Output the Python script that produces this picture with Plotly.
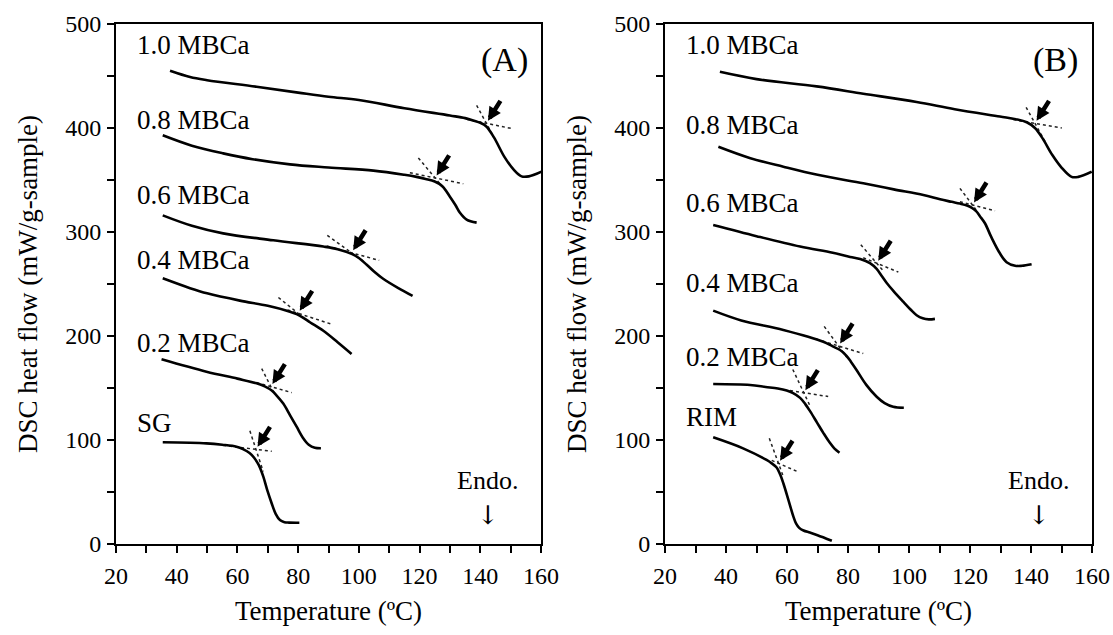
import plotly.graph_objects as go

FONT = "Liberation Serif"

# ---------------- Panel (A) data ----------------
A_names = ["1.0 MBCa", "0.8 MBCa", "0.6 MBCa", "0.4 MBCa", "0.2 MBCa", "SG"]
A_label_v = [480, 408, 336, 273, 193, 116]

A10_T = [37.8, 44.4, 50, 66.3, 80, 90, 100, 115, 130, 135, 138, 140, 142, 144.5, 148, 151, 153.6, 156, 160.2]
A10_v = [455, 449, 446, 439.7, 434, 430, 427, 419, 412, 409.5, 407, 405, 401.5, 391, 372, 360, 353.5, 353.5, 358]
A08_T = [35.4, 45, 55.3, 65, 77.3, 90, 104.8, 115, 119, 122, 125, 127.5, 130, 131.8, 133.3, 135.5, 138.8]
A08_v = [393, 383, 375.6, 370, 365, 362, 359, 355, 353, 351, 348.5, 344, 334, 326, 318.5, 312, 309]
A06_T = [35.4, 45, 55.3, 71.8, 88.3, 93, 97.6, 100, 102.6, 105, 108, 113, 117.7]
A06_v = [316, 306, 298.7, 292, 286, 283.5, 279, 275, 268.5, 262, 255, 246, 238.5]
A04_T = [35.4, 44.4, 50, 60.8, 70, 77.3, 79.5, 81.7, 84, 88.3, 93, 97.6]
A04_v = [255.5, 246, 241, 234, 229, 223.4, 221, 217.5, 213, 205, 194, 182.7]
A02_T = [35, 49.8, 60, 66.3, 69, 71.3, 73, 75.1, 77.3, 79.5, 81.5, 83.5, 85.5, 87.5]
A02_v = [177.6, 165.7, 159, 154.5, 151.5, 147.5, 142.5, 135, 124, 112.8, 102.5, 95.5, 92.5, 92]
ASG_T = [35.4, 49.8, 55, 59.7, 62, 64, 65.5, 67, 68.5, 69.8, 71.3, 72.6, 74, 75.5, 77, 80.4]
ASG_v = [97.8, 96.8, 95.5, 93.6, 91, 87.5, 83, 76, 65, 52, 39, 29, 23, 21, 20.6, 20.5]

A_onset_T = [142, 125.1, 97.6, 80, 71, 66.1]
A_onset_v = [404.5, 352, 280, 221.8, 151.3, 91]
A_base_slope = [-0.6, -0.6, -0.8, -0.95, -0.83, -0.36]
A_base_T0 = [135.5, 116.8, 89.4, 76.5, 66.3, 55.3]
A_base_T1 = [150.3, 134.4, 106.7, 91.4, 77.9, 71.3]
A_steep_slope = [-5.4, -3.5, -2.1, -2.34, -5.8, -8.9]
A_steep_T0 = [138.8, 119.6, 89.6, 73.5, 68.0, 64.1]
A_steep_T1 = [144.3, 127.8, 101.4, 81.7, 72.4, 68.5]

# ---------------- Panel (B) data ----------------
B_names = ["1.0 MBCa", "0.8 MBCa", "0.6 MBCa", "0.4 MBCa", "0.2 MBCa", "RIM"]
B_label_v = [480, 403, 328, 251, 180, 122]

B10_T = [38, 50, 69.7, 85, 102.5, 115, 129.8, 135, 138.6, 141.3, 143.8, 147, 150, 153.3, 155.5, 159.9]
B10_v = [454, 447, 440, 433, 425, 418, 411, 408.5, 405.5, 400, 390, 374, 362, 353, 353, 358]
B08_T = [37.5, 48, 58.8, 70, 85, 95, 104.7, 110.2, 114, 116.7, 119, 120.5, 122, 123.3, 124.9, 127, 129.8, 132, 134.8, 137, 140.2]
B08_v = [382, 371, 362.8, 355, 346.8, 341, 335.6, 331.4, 329, 327.3, 325.5, 323.5, 320, 315, 308.4, 295, 279.5, 271, 267.6, 267.5, 269]
B06_T = [35.8, 50, 64.3, 75, 80.7, 84, 87.2, 89.4, 91, 92.7, 95, 98.1, 100.5, 102.5, 104.5, 106.5, 108.5]
B06_v = [306.7, 296, 286, 280, 276, 274, 270, 264.5, 258, 251, 243, 233, 225.5, 220, 217, 216, 216.5]
B04_T = [35.8, 45, 58.8, 71.9, 75, 77.4, 79.5, 81, 82.8, 86, 89.4, 92, 94.8, 98.3]
B04_v = [224.4, 215, 205.8, 194.5, 190, 186.5, 181, 175, 167.3, 153, 141.6, 135.5, 132, 131]
B02_T = [35.8, 47.9, 53, 57, 59.9, 62, 64.3, 66, 67.6, 69.8, 72, 74, 75.5, 77.2]
B02_v = [153.8, 152.9, 151, 149.5, 147.5, 145, 140.5, 134.5, 127.5, 117, 106.4, 97.5, 92, 87.8]
BRIM_T = [35.8, 45.6, 53.3, 55, 56.6, 57.8, 58.8, 60.5, 62.1, 63, 64, 65.4, 67.5, 70, 74.7]
BRIM_v = [102.6, 92, 80.8, 77.5, 73.5, 66.5, 58.4, 42, 26.3, 19.5, 15.5, 13, 11, 8.5, 3.2]

B_onset_T = [141.3, 120.8, 89.4, 76.9, 65.5, 57.2]
B_onset_v = [404.5, 326, 270, 190.4, 145.5, 77.6]
B_base_slope = [-0.5, -0.75, -1.2, -0.9, -0.46, -1.28]
B_base_T0 = [134.2, 116.7, 85.0, 69.7, 61.0, 55.0]
B_base_T1 = [150.1, 128.2, 96.5, 85.0, 73.5, 63.2]
B_steep_slope = [-5.3, -3.9, -3.4, -4.0, -6.2, -8.0]
B_steep_T0 = [138.4, 116.7, 84.2, 72.2, 61.9, 54.2]
B_steep_T1 = [144.6, 122.2, 91.6, 79.6, 67.5, 58.8]

panel_labels = ["(A)", "(B)"]
x_title = "Temperature (ºC)"
y_title = "DSC heat flow (mW/g-sample)"

A_curves = [(A10_T, A10_v), (A08_T, A08_v), (A06_T, A06_v), (A04_T, A04_v), (A02_T, A02_v), (ASG_T, ASG_v)]
B_curves = [(B10_T, B10_v), (B08_T, B08_v), (B06_T, B06_v), (B04_T, B04_v), (B02_T, B02_v), (BRIM_T, BRIM_v)]

fig = go.Figure()

panels = [
    dict(curves=A_curves, names=A_names, label_v=A_label_v, oT=A_onset_T, ov=A_onset_v,
         bs=A_base_slope, b0=A_base_T0, b1=A_base_T1, ss=A_steep_slope, s0=A_steep_T0, s1=A_steep_T1,
         xa="x", ya="y", tag=panel_labels[0]),
    dict(curves=B_curves, names=B_names, label_v=B_label_v, oT=B_onset_T, ov=B_onset_v,
         bs=B_base_slope, b0=B_base_T0, b1=B_base_T1, ss=B_steep_slope, s0=B_steep_T0, s1=B_steep_T1,
         xa="x2", ya="y2", tag=panel_labels[1]),
]

annotations = []
for p in panels:
    # dotted tangent lines
    for i in range(len(p["oT"])):
        T0, v0 = p["oT"][i], p["ov"][i]
        for slope, ta, tb in ((p["bs"][i], p["b0"][i], p["b1"][i]), (p["ss"][i], p["s0"][i], p["s1"][i])):
            fig.add_trace(go.Scatter(
                x=[ta, tb], y=[v0 + slope * (ta - T0), v0 + slope * (tb - T0)],
                mode="lines", line=dict(color="#222222", width=1.5, dash="dot"),
                xaxis=p["xa"], yaxis=p["ya"], showlegend=False, hoverinfo="skip"))
    # curves
    for (T, v) in p["curves"]:
        fig.add_trace(go.Scatter(
            x=T, y=v, mode="lines", line=dict(color="black", width=2.6, shape="spline", smoothing=1.0),
            xaxis=p["xa"], yaxis=p["ya"], showlegend=False, hoverinfo="skip"))
    # onset arrows
    for i in range(len(p["oT"])):
        annotations.append(dict(
            x=p["oT"][i], y=p["ov"][i], xref=p["xa"], yref=p["ya"], text="",
            showarrow=True, arrowhead=2, arrowsize=0.6, arrowwidth=4.5, arrowcolor="black",
            ax=15, ay=-24, standoff=3))
    # curve labels
    for name, lv in zip(p["names"], p["label_v"]):
        annotations.append(dict(
            x=26.3, y=lv, xref=p["xa"], yref=p["ya"], text=name, showarrow=False,
            xanchor="left", yanchor="middle", font=dict(family=FONT, size=27, color="black")))
    # panel tag
    annotations.append(dict(
        x=148, y=465, xref=p["xa"], yref=p["ya"], text=p["tag"], showarrow=False,
        xanchor="center", yanchor="middle", font=dict(family=FONT, size=34, color="black")))
    # Endo.
    annotations.append(dict(
        x=142.5, y=61.5, xref=p["xa"], yref=p["ya"], text="Endo.", showarrow=False,
        xanchor="center", yanchor="middle", font=dict(family=FONT, size=26, color="black")))
    annotations.append(dict(
        x=142.5, y=28, xref=p["xa"], yref=p["ya"], text="↓", showarrow=False,
        xanchor="center", yanchor="middle", font=dict(family="DejaVu Serif", size=26, color="black")))

axis_common = dict(
    showline=True, linecolor="black", linewidth=2, mirror=True,
    ticks="outside", ticklen=7, tickwidth=2, tickcolor="black",
    showgrid=False, zeroline=False, automargin=False,
    tickfont=dict(family=FONT, size=24, color="black"),
    title_font=dict(family=FONT, size=27, color="black"),
)

x_tickvals = [20, 40, 60, 80, 100, 120, 140, 160]
y_tickvals = [0, 100, 200, 300, 400, 500]

xaxis_def = dict(axis_common, range=[20, 160], tickvals=x_tickvals,
                 minor=dict(dtick=10, tick0=0, ticks="outside", ticklen=7, tickwidth=2, tickcolor="black", showgrid=False),
                 title=dict(text=x_title, standoff=13), ticklabelstandoff=2)
yaxis_def = dict(axis_common, range=[0, 500], tickvals=y_tickvals,
                 minor=dict(dtick=50, tick0=0, ticks="outside", ticklen=7, tickwidth=2, tickcolor="black", showgrid=False),
                 title=dict(text=y_title, standoff=20), ticklabelstandoff=1)

W, H = 1113, 635

fig.update_layout(
    width=W, height=H,
    paper_bgcolor="white", plot_bgcolor="white",
    margin=dict(l=0, r=0, t=0, b=0),
    xaxis=dict(xaxis_def, domain=[116 / W, 541 / W], anchor="y"),
    yaxis=dict(yaxis_def, domain=[1 - 544 / H, 1 - 24 / H], anchor="x"),
    xaxis2=dict(xaxis_def, domain=[665 / W, 1092 / W], anchor="y2"),
    yaxis2=dict(yaxis_def, domain=[1 - 544 / H, 1 - 24 / H], anchor="x2"),
    annotations=annotations,
    showlegend=False,
)

# remove the page's default body margin so the figure fills the window exactly
fig.write_html("out.html", config={"displayModeBar": False},
               post_script="document.body.style.margin='0px';document.body.style.overflow='hidden';")
